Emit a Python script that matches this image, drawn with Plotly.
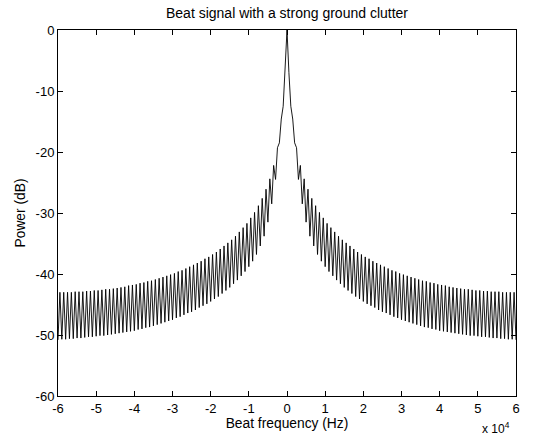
import numpy as np
import plotly.graph_objects as go

# Spectrum (dB); bins every 500 Hz, spectrum mirrored about 0 Hz
main_lobe_db = [0.0, -7.0, -12.5]  # 0, 500, 1000 Hz

# sidelobe peaks at 1.5, 2.5, ... 59.5 kHz
peak_db = [
    -14.6, -19.3, -22.2, -24.4, -26.1, -27.6, -28.8, -29.9, -30.8, -31.7,
    -32.4, -33.1, -33.8, -34.4, -34.9, -35.4, -35.9, -36.4, -36.8, -37.2,
    -37.5, -37.9, -38.2, -38.5, -38.8, -39.1, -39.4, -39.6, -39.9, -40.1,
    -40.3, -40.5, -40.7, -40.9, -41.1, -41.2, -41.4, -41.5, -41.7, -41.8,
    -41.9, -42.1, -42.2, -42.3, -42.4, -42.5, -42.5, -42.6, -42.7, -42.7,
    -42.8, -42.8, -42.9, -42.9, -42.9, -43.0, -43.0, -43.0, -43.0,
]

# troughs at 2, 3, ... 60 kHz
trough_db = [
    -18.5, -24.5, -28.5, -31.5, -33.8, -35.4, -36.8, -37.9, -38.8, -39.6,
    -40.3, -41.0, -41.6, -42.2, -42.7, -43.2, -43.7, -44.1, -44.5, -44.9,
    -45.2, -45.5, -45.9, -46.2, -46.4, -46.7, -47.0, -47.2, -47.5, -47.7,
    -47.9, -48.1, -48.3, -48.5, -48.7, -48.8, -49.0, -49.1, -49.3, -49.4,
    -49.5, -49.6, -49.7, -49.8, -49.9, -50.0, -50.1, -50.1, -50.2, -50.3,
    -50.3, -50.4, -50.5, -50.5, -50.6, -50.6, -50.7, -50.7, -50.8,
]

x_ticks = [-6, -5, -4, -3, -2, -1, 0, 1, 2, 3, 4, 5, 6]
y_ticks = [0, -10, -20, -30, -40, -50, -60]

# build the one-sided spectrum, then mirror it
right_side = list(main_lobe_db[1:])
for p, t in zip(peak_db, trough_db):
    right_side += [p, t]
power_db = right_side[::-1] + [main_lobe_db[0]] + right_side
freq_hz = np.arange(-60000, 60001, 500)

FONT = "Arial, Liberation Sans, sans-serif"
TICK_SIZE = 13

fig = go.Figure(
    go.Scatter(
        x=freq_hz,
        y=power_db,
        mode="lines",
        line=dict(color="black", width=0.9),
        hoverinfo="skip",
    )
)

axis_common = dict(
    showline=True,
    linecolor="black",
    linewidth=1,
    mirror="ticks",
    ticks="inside",
    ticklen=5,
    tickcolor="black",
    showgrid=False,
    zeroline=False,
    tickfont=dict(family=FONT, size=TICK_SIZE, color="black"),
)

fig.update_xaxes(
    range=[-60000, 60000],
    tickvals=[v * 10000 for v in x_ticks],
    ticktext=[str(v) for v in x_ticks],
    title=dict(text="Beat frequency (Hz)", font=dict(family=FONT, size=13.8, color="black"), standoff=2),
    **axis_common,
)
fig.update_yaxes(
    range=[-60, 0],
    tickvals=y_ticks,
    ticktext=[str(v) for v in y_ticks],
    title=dict(text="Power (dB)", font=dict(family=FONT, size=13.8, color="black"), standoff=6),
    **axis_common,
)

fig.update_layout(
    width=534,
    height=447,
    margin=dict(l=58, r=18, t=30, b=51),
    paper_bgcolor="white",
    plot_bgcolor="white",
    showlegend=False,
    title=dict(
        text="Beat signal with a strong ground clutter",
        font=dict(family=FONT, size=14, color="black"),
        x=0.5,
        xref="paper",
        xanchor="center",
        y=1 - 13 / 447,
        yanchor="middle",
    ),
    annotations=[
        dict(
            text="x 10<sup>4</sup>",
            xref="paper",
            yref="paper",
            x=0.992,
            y=-32 / 366,
            xanchor="right",
            yanchor="middle",
            showarrow=False,
            font=dict(family=FONT, size=12, color="black"),
        )
    ],
)

# drop the default page margin so the figure sits at the window's corner
fig.write_html(
    "out.html",
    config={"displayModeBar": False},
    post_script="document.body.style.margin = '0';",
)
